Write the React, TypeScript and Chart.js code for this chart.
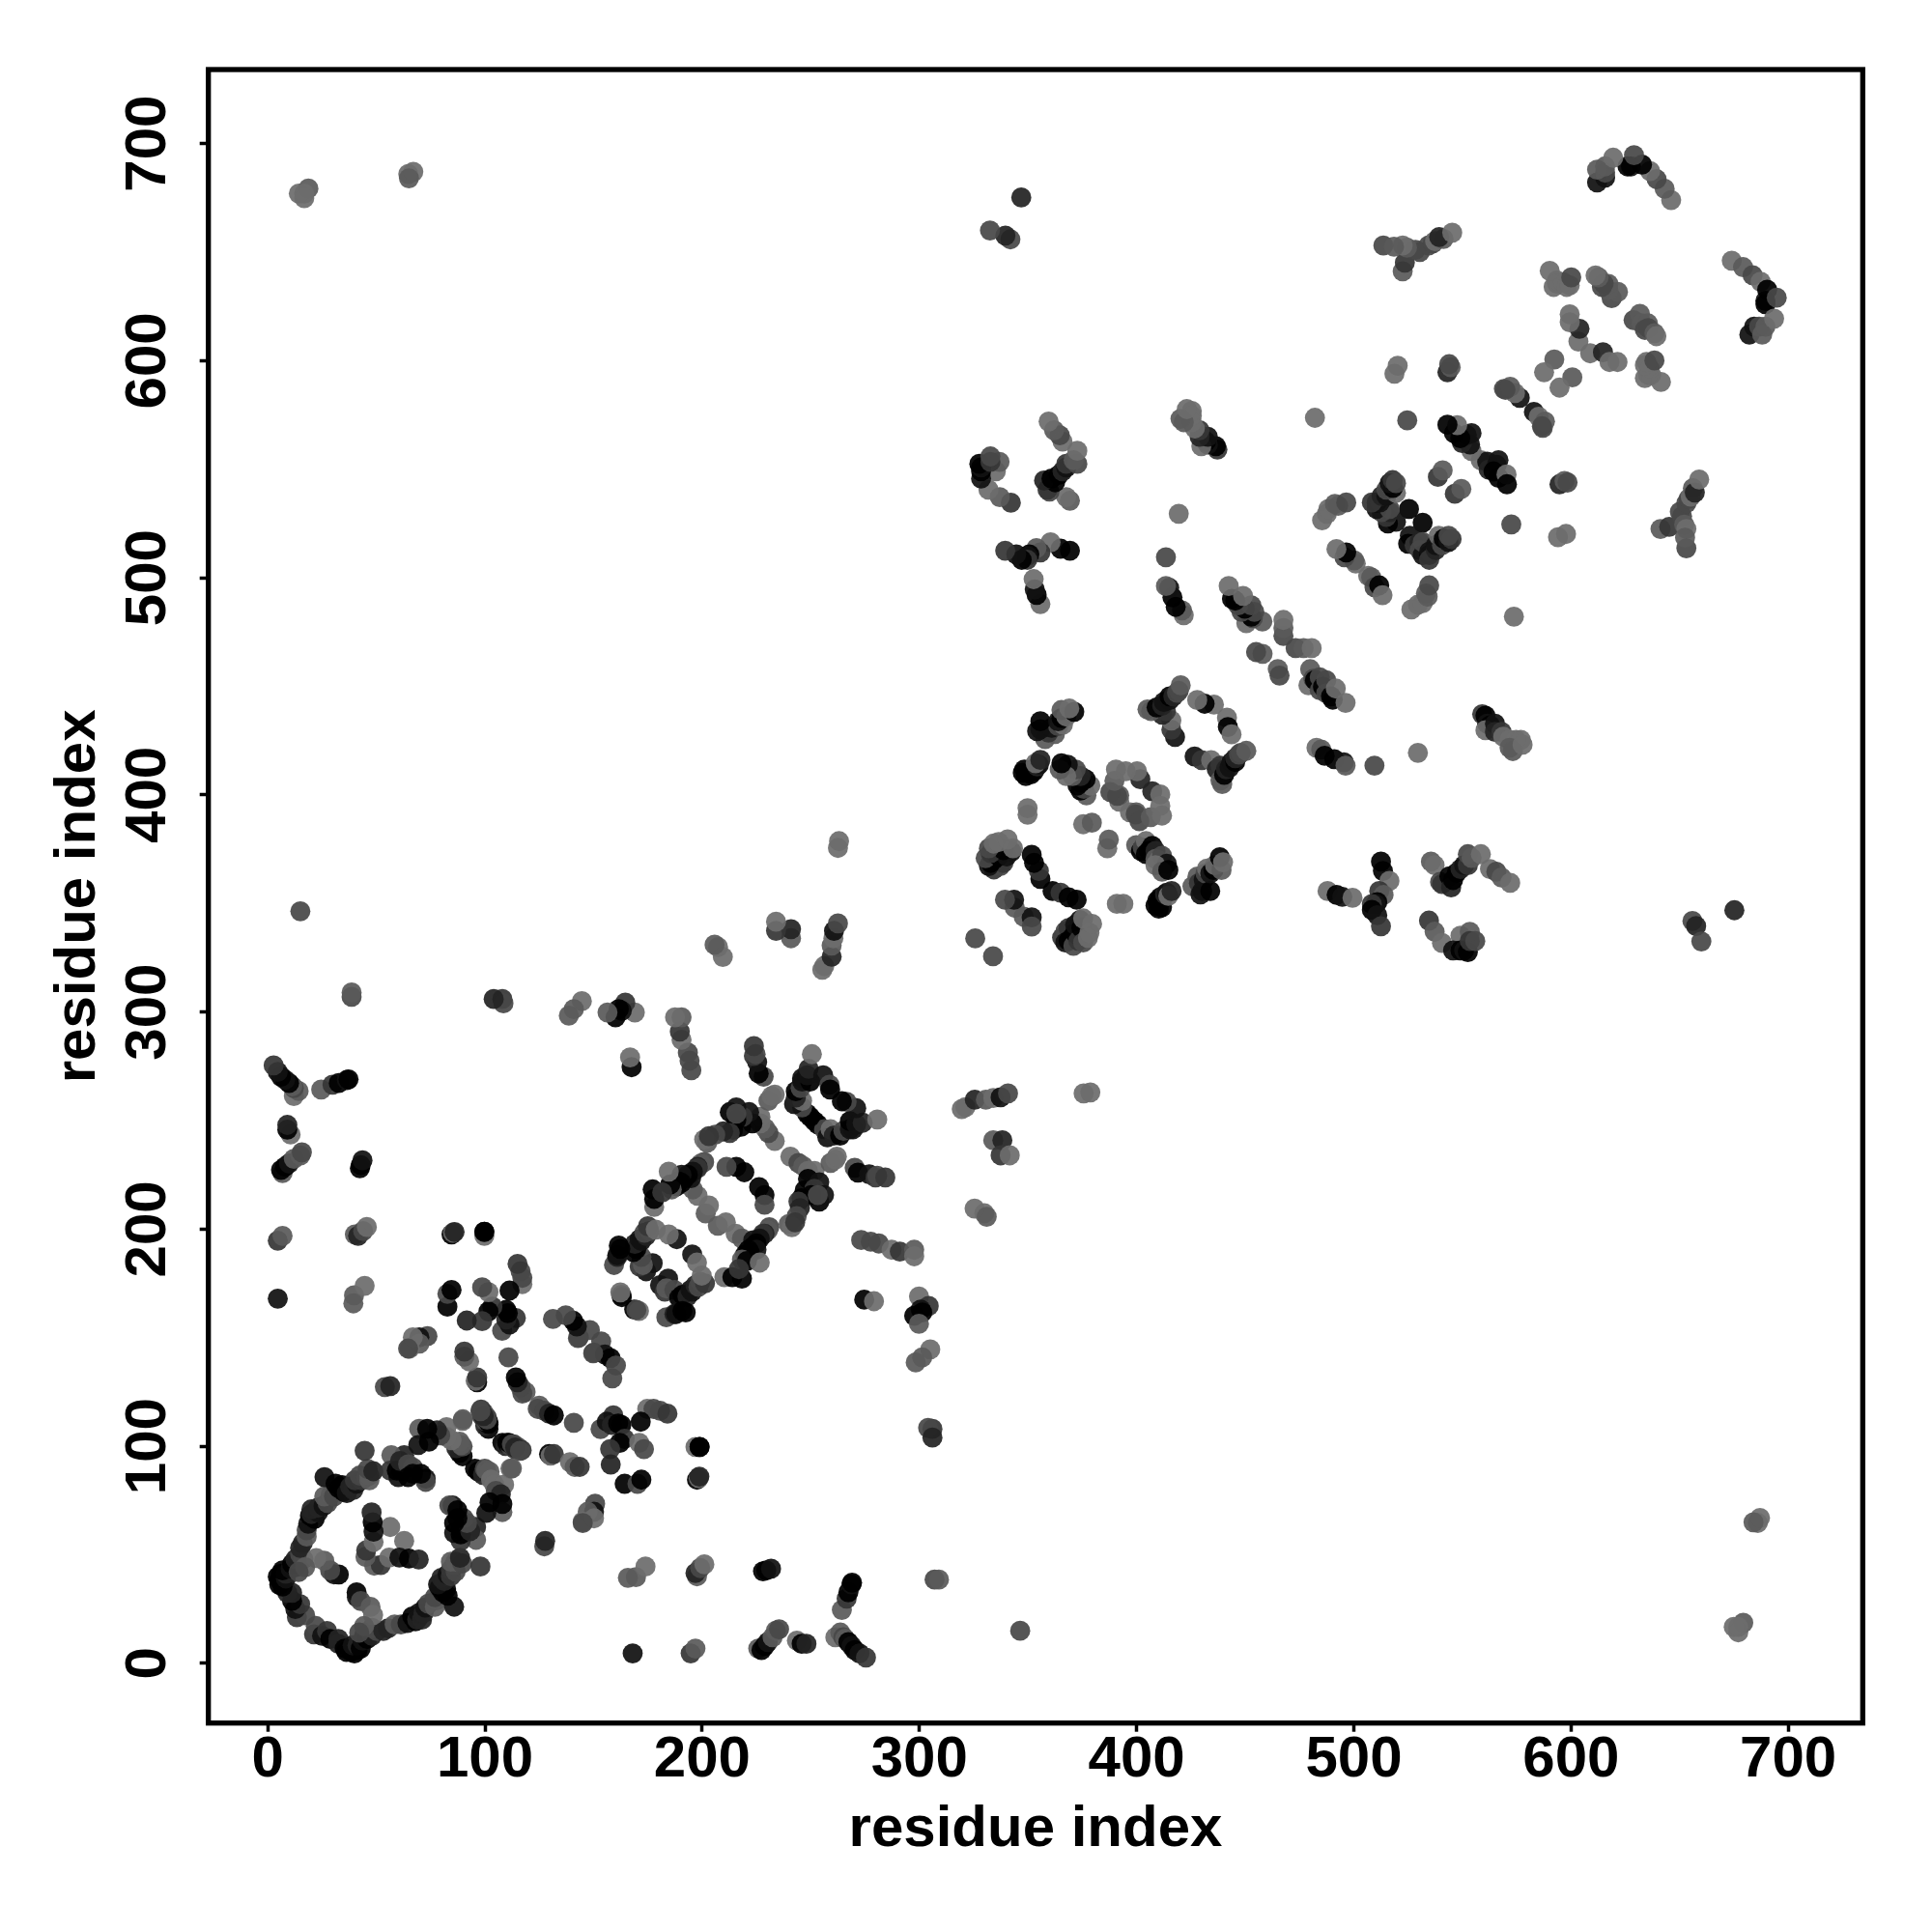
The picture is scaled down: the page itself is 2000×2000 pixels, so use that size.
import React, { useEffect, useRef } from "react";
import { Chart, registerables } from "chart.js";

Chart.register(...registerables);

const ringBottom = [[21.3,13.4,68],[22.1,17.2,85],[25,12.7,34],[27.3,14.9,68],[28.8,11.2,17],[32.5,9,51],[32.5,11.2,51],[35.4,6.8,0],[36.2,5.3,0],[38.4,5.3,17],[39.9,4.6,0],[41.3,6,0],[39.1,8.3,34],[41.3,8.3,51],[42.8,6.8,0],[43.6,10.5,34],[44.3,12.7,34],[45.8,11.2,0],[48,12.7,51],[48,16.4,85],[50.2,14.9,85],[53.2,14.9,51],[55.4,16.1,51],[58.4,17.9,102],[61.3,17.9,85],[64.3,18.6,34],[66.5,21.6,0],[68,19.4,0],[68.8,20.1,51],[69.5,23.1,34],[71,20.1,51],[71.7,23.1,51],[72.5,25.7,34],[73.9,27.5,85],[76.9,26,102],[77.6,29,102],[76.9,30.5,85],[85.8,26.1,34],[79.1,34.9,17],[80.6,32.7,0],[82.1,34.2,0],[82.8,31.2,0],[78.4,36.4,34],[79.9,39.4,51],[81.3,37.9,51],[82.8,40.9,34],[84.3,40.1,68],[84.3,43.1,68],[86.5,42.3,85],[85.8,45.3,85],[84.3,46.8,102],[86.5,46.8,102],[89.5,46,85],[88.5,48.6,51],[97.9,44.6,68]];
const ringArm = [[40.9,32.7,0],[41,30.5,34],[42.8,28.7,85],[47.3,26,102],[48.5,22.3,119],[44.3,17.2,102],[42.1,14.2,85]];
const ringCentre = [[62.8,56.4,119],[49,45,102],[52,45.3,68],[55.9,48.7,119],[60.6,48.7,34],[65,48.3,17],[69.5,47.8,51]];
const ringRight = [[95.9,62.8,51],[95.9,56.9,102],[88.8,56.4,68],[85.8,60.1,34],[88.8,59.4,0],[88.8,61.6,0],[93.2,60.9,51],[90.2,66.8,85],[91.7,64.6,85],[85.1,72.7,34],[83.6,72.7,85],[85.8,64.6,0],[87.3,66.8,17],[87.3,70.5,0]];
const strandE = [[95.4,89.7,17],[96.9,88.3,0],[99.1,86.8,51],[99.9,89.7,85],[100.6,89,102],[102.1,88.3,102],[102.8,84.6,119],[104.3,82.3,119],[108.8,82.3,119],[105,79.4,85],[107.3,77.9,51],[108,69.7,102],[100.6,69.3,34],[102.1,74.2,17],[108,73.4,0]];
const strandF = [[108,101.6,0],[109.5,100.1,51],[110.2,101.6,17],[111.7,100.1,85],[113.2,100.9,68],[113.9,98.6,68],[115.4,99.4,85],[116.9,98.2,68],[111.7,89.7,119],[111,101.6,0],[112.4,100.9,85],[113.9,99.4,51],[116.1,97.9,85],[112.4,89.8,102]];
const bandA = [[125,118.7,102],[124.3,117.2,85],[127.3,116.4,85],[129.5,115,51],[131.7,114.2,0],[140.9,110.8,85],[142.8,149.8,85],[153.5,148.3,85],[150.1,143.2,85],[155.2,142.3,34],[157.8,140.6,0],[160.3,137.2,85],[158.6,131.3,85],[159.1,114.2,68],[153.2,107.9,85],[156.1,111.3,34],[158.4,109.8,51],[161.3,110.5,0],[162.8,109.8,0]];
const bandB = [[174.7,117.2,119],[177.6,117.2,85],[180.6,116.4,85],[184,115,68],[171.7,111.3,17],[164.3,103.4,68],[162.1,101.6,0],[157.6,98.7,68],[157.9,91.6,51],[171,101.6,119],[173.2,98.7,85],[164.3,82.7,17],[170.2,82.7,85],[172,84.6,17],[196.9,99.7,119],[198.8,99.7,0],[198.8,99.7,0],[197.6,84.6,0],[198.4,85.3,119],[198.7,86,51],[129.5,96.4,0],[130.2,95.7,119],[131.7,96.4,68],[139.1,92.7,119],[141.3,90.5,102],[143.6,90.5,68]];
const bandC = [[150.7,73.5,85],[150.2,69.8,34],[147.3,69.8,102],[150.2,66.8,119],[145,65.3,119],[145,64.6,85],[127.3,53.9,85],[127.7,56.4,51],[165.8,39.4,102],[169.5,39.7,102],[173.9,44.6,119],[197.6,40.1,102],[196.9,41.6,51],[199.1,43.9,85],[201,45.6,119],[228,42.4,0],[229.5,42.8,17],[231.7,43.6,34],[264.3,24.6,102],[266.5,29.8,68],[267.3,32.7,0],[268.7,36.4,34],[269,37.2,17],[306,108,68],[304,108.5,85],[306,104,51],[307,38.6,85],[309,38.6,102]];
const bandBottom = [[168,4.6,34],[194.7,4.6,68],[196.9,6.8,102],[225.8,6.8,102],[227.3,6.1,0],[228.8,8,17],[230.2,9.8,34],[232.4,12,102],[233.9,15,102],[235.4,15.7,85],[243.6,10.5,119],[245.8,9,0],[248,9,51],[261.3,12,119],[263.6,14.2,102],[265,12,85],[265.8,11.3,102],[267.3,9.8,0],[268.8,8,34],[270.2,6.1,17],[272.4,4.6,34],[275.4,2.7,68],[346.4,15,85],[677,14.3,119],[679.3,18.7,102],[674.9,16.8,119],[677,16.8,119],[686,64.7,119],[687,67,119],[684,65,102]];
const twinLoop = [[226.2,219.4,0],[228.7,215.7,0],[228.7,211.2,85],[207.2,201.6,102],[210.9,203.1,119],[215.4,197.9,119],[218.3,195.7,102],[230.9,200.9,85],[230.2,199.4,102],[228.7,197.9,51],[228,197.9,68],[226.5,195.7,34],[223.5,194.9,34],[225,193.4,0],[223.5,192,17],[225,190.5,34],[222,189,0],[221.3,190.5,0],[219.8,188.3,17],[218.3,186,102],[220.6,185.3,0],[226.5,184.6,119],[210.2,177.9,119],[213.9,177.9,17],[218.3,177.2,0],[216.9,181.6,68]];
const twinRight = [[240.6,233.4,119],[244.3,230.5,85],[246.5,229,102],[248.7,226.8,119],[251.7,226.8,119],[248.7,223.1,0],[253.9,221.6,34],[247.2,217.9,0],[251.7,218.6,68],[253.9,212.7,17],[256.1,215.7,34],[250.2,215.7,0],[245.7,214.2,0],[244.3,212.7,68],[253.2,215.7,85],[245,209.7,51],[243.5,206,85],[239.8,202.3,102],[241.3,200.9,119],[242.8,203.1,68]];
const twinTop = [[251.7,249.7,17],[253.2,248.3,0],[256.1,246,85],[257.6,242.3,34],[259.1,246,119],[260.6,243.1,51],[263.5,243.1,0],[265,245.3,85],[268,246,34],[269.5,246,34],[268,249.7,17],[270.9,248.3,34],[273.9,249,51],[280.6,250.5,119],[270.9,255.7,34],[266.5,258.6,85],[264.3,258.9,17],[259.1,230.5,102],[261.3,232,119],[262,233.4,119],[270.2,228.3,85],[271.7,226,0],[276.9,225.3,34],[279.8,223.8,68],[280.6,224.6,85],[284.3,223.8,68]];
const twinOuter = [[273.2,195,85],[277.6,194.2,85],[281.3,193.4,85],[287.2,190.5,119],[291,189.7,68],[297.6,190.5,102],[297.6,187.5,119],[274.6,167.5,17],[279.1,166.8,119],[299.8,169,119],[304.3,164.6,68],[300.6,163,34],[297.6,160.1,17],[301.3,161.6,0],[299.8,156.4,102],[305,144.6,119],[301.3,140.9,102],[298.3,138.6,102]];
const twinLeft = [[184.3,177.2,34],[180.6,174.2,34],[182.8,171.2,68],[183.5,172.7,102],[187.2,172,85],[189.4,168.3,0],[190.9,169.7,17],[193.2,169,51],[194.6,172,34],[195.4,171.2,34],[196.9,174.2,51],[198.3,173.4,85],[199.1,175.7,85],[201.3,175,68],[183.5,159.4,85],[187.2,160.9,51],[188,160.9,34],[190.9,162.3,17],[192.4,161.6,0],[168.7,163,0],[170.9,162.3,119],[162.8,169.7,85],[195.4,188.3,34],[197.6,184.6,119],[199.8,178.6,119]];
const midA = [[319.5,255.3,119],[321.2,256.2,119],[325.5,259.6,51],[330.6,259.6,102],[334,260.4,119],[337.4,260.7,34],[340.8,262.5,85],[375.6,262.5,119],[378.7,263,119],[334,240.9,102],[338.2,240.9,51],[337.4,234,68],[341.6,234,119],[325.4,209.5,119],[329.9,207.3,119],[331,205.7,102]];
const midB = [[361.3,355.7,17],[365,355,68],[368.7,352.8,17],[372.4,351.7,17],[348,343.9,102],[351.7,343.6,34],[351.7,339.4,85],[333.9,325.7,85],[365.7,334.3,68],[367.2,337.2,85],[368.7,338.7,68],[367.2,332,34],[368.7,332.8,17],[370.2,334.2,0],[370.9,330.5,85],[372.4,335.7,17],[371.7,336.5,0],[371.7,340.2,34],[373.2,332.8,68],[373.9,342.4,34],[374.6,338.7,0],[375.4,332,85],[375.4,343.1,119],[377.6,334.2,119],[378.3,336.5,119],[379.5,340.6,119]];
const midC = [[390.9,349.8,119],[393.9,349.8,119],[410.2,347.6,17],[408.7,349,0],[411.7,348.3,0],[410.2,350.5,0],[409.5,351.3,17],[411.7,352,17],[410.9,352.8,17],[413.1,354.2,51],[413.9,355,34],[414.6,353.5,119],[416.1,355.7,51],[425.7,357.9,102],[428,362.4,102],[428.7,359.4,68],[429.4,354.2,34],[430.2,355.7,34],[430.9,360.9,34],[431.7,363.9,85],[433.9,355.7,17],[432.4,366.1,119],[433.9,363.9,34],[435.4,365.4,17],[436.1,367.6,119],[439.1,365.4,102],[438.3,371.3,0],[439.8,369,119]];
const midD = [[399.8,376.9,102],[402,374.2,17],[402.8,375.7,85],[404.3,378.7,119],[404.3,372.8,17],[405.7,374.2,0],[407.2,376.5,0],[408.7,374.2,51],[408.7,370.5,102],[410.2,369.8,119],[411.7,372,85],[413.9,368.3,34],[408.7,367.6,119],[411.7,364.6,102],[414.6,365.4,0],[386.5,375.4,119],[387.2,379.4,102],[396.9,392,119],[399.8,392,102],[399.6,391,85],[401.3,387.9,85],[406.5,389.8,102],[407.2,401.7,51],[410.9,400.2,119],[410.9,395,119],[411.7,390.5,119]];
const upperLoop = [[441.6,435.6,119],[442,431.3,17],[443.7,427.9,119],[426.7,417.7,34],[430,416,68],[434.3,416,119],[436.9,411.8,51],[438.6,406.7,102],[439.4,405,102],[438.6,413.5,68],[440.3,409.2,17],[441.1,411.8,51],[442.8,412.6,34],[443.7,415.2,34],[445.4,415.2,17],[445.4,416.9,51],[447.1,418.6,85],[447.9,419.4,85],[450.5,420.3,102]];
const highA = [[487.9,355.7,119],[492.1,354,17],[494.7,353.1,34],[499.4,352.6,119],[512.5,369.3,0],[513.4,365,17],[516.4,360.4,119],[511.7,355.7,68],[513.7,353.9,102],[510.8,350.6,17],[510,349.7,34],[508.3,349.7,68],[508.3,347.1,0],[510.8,344.6,34],[512.5,339.5,68],[535.5,369.3,102],[537.2,367.6,119],[539.7,359.9,85],[540.6,359,68],[544,362.5,0],[544.8,357.4,51],[545.7,360.8,17],[547.4,364.2,17],[549.1,365.9,51],[550.8,367.6,34],[552.5,367.6,68],[552.5,372.7,85],[554.2,371,102],[558.5,372.7,119],[562.7,365.9,119],[565.6,364.6,85],[568,362,102],[572,359.5,119]];
const highB = [[534.6,342.1,68],[537.2,337,102],[540.6,331.8,119],[549.1,335.2,119],[553.4,336.9,102],[545.7,328.4,34],[549.1,328.4,17],[550.8,328.4,34],[552.5,327.6,17],[553.4,332.7,68],[555.9,332.7,85],[482.8,421.7,119],[485,420.9,102],[486.6,418,0],[491,416.5,17],[495.4,415,34],[496.2,413.5,102],[509.5,413.5,85],[529.5,419.4,119]];
const highC = [[559.1,437.2,68],[560.6,436.5,0],[561.4,432.8,34],[562.8,432,0],[560.6,429.8,119],[565,432.8,34],[565,429,51],[568,429,68],[568.8,426.8,119],[571.7,425.4,119],[574.7,425.4,119],[576.9,425.4,119],[571.7,421.7,102],[573.2,420.2,102],[577.7,423.1,119],[479.1,450.5,119],[479.9,457.9,102],[481.4,453.5,85],[482.1,452.8,0],[484.3,454.2,85],[484.3,448.3,85],[485.8,449.8,17],[487.3,452.8,85],[487.3,446.8,85],[489.5,445.4,0],[490.3,443.9,0],[491.7,449,119],[496.2,442.4,119],[473.2,467.6,85],[476.9,467.6,102],[480.6,467.6,119],[465,458,102],[465.8,455,85]];
const highD = [[506.6,500.9,119],[508,500.2,102],[509.5,495.7,85],[511.7,496.5,17],[513.2,492,119],[526.5,485.4,119],[529.5,487.6,119],[531.7,488.3,119],[533.2,492.8,102],[534,491.3,102],[534.7,496.5,85],[531.7,525.4,17],[525.8,519.4,34],[525,515.7,17],[528,515,68],[530.3,516.5,51],[530.3,512.8,85],[531.7,510.5,34],[531.7,516.5,85],[534.7,510.5,17],[534.7,512,34],[534.7,508.3,68],[537.7,512.8,51],[537.7,515,34],[539.1,519.4,119],[540.6,515,85],[541.4,518,0],[543.6,516.5,34],[545,517.9,68],[543.6,519.4,85]];
const highE = [[546.5,538.7,68],[549.5,540.9,102],[558.4,554.2,119],[561.4,553.5,34],[562.1,549.8,51],[565.8,552,34],[566.6,554.2,34],[566.6,546.1,0],[564.3,549,17],[570.3,547.6,119],[570.5,543.1,17],[594.7,543.1,51],[597,544.6,102],[598.4,543.9,85],[572.5,524.6,85],[594,518.7,119],[597.7,520.2,119],[573.7,482.1,119],[582.9,576.4,34],[585.1,574.2,119],[587,569.1,85],[588,572,102],[586.6,569.8,85]];
const topA = [[674,646.1,119],[679.2,643.1,102],[683.6,639.4,85],[687.3,636.4,119],[689.5,627.6,34],[689.5,626,0],[690.3,632.7,0],[694.7,629,85],[682.1,612,34],[684.3,615.7,34],[686.6,615.7,85],[688,612,102],[689.5,615.7,102],[693.5,619.4,119],[628.8,618.7,85],[631.7,621.6,102],[632.5,617.2,102],[635.4,617.2,102],[635.5,615,85],[634,614.2,85],[638.4,612.7,102],[639.3,611.3,119]];
const topB = [[634,592,119],[635.5,593.5,119],[636.9,593.5,119],[636.2,596.4,119],[634,598,119],[634.7,599.4,119],[638.4,600.1,85],[641.4,590.2,119],[608.8,603.4,119],[614.7,603.9,51],[617.7,599.4,119],[621.4,599.4,119],[600.6,592.3,102],[594.7,587.6,119],[641.2,522.5,102],[645.2,523.5,68],[650.1,530.4,85],[651.1,528.4,85],[652.1,524.5,102],[653.1,522.5,119],[653.1,513.6,85],[652.5,518.5,102],[653.1,534.4,85],[654.1,536.4,85],[655.1,537.4,119],[656.1,541.3,102],[657,539.3,51],[659,545.3,119],[675.2,346.9,51],[655.9,341.9,85],[657.6,339.6,51],[660,332.5,85]];

const contactGroups = [ringBottom, ringArm, ringCentre, ringRight, strandE, strandF, bandA, bandB, bandC, bandBottom, twinLoop, twinRight, twinTop, twinOuter, twinLeft, midA, midB, midC, midD, upperLoop, highA, highB, highC, highD, highE, topA, topB];

const tickValues = [0, 100, 200, 300, 400, 500, 600, 700];
const axisTitle = "residue index";
const axisMin = { x: -27.35, y: -27.5 };
const axisMax = { x: 734.3, y: 734.1 };
const markerAlpha = 0.93;
const fontFamily = '"Liberation Sans", Arial, Helvetica, sans-serif';

const lower = contactGroups.flat();
const points = [
  ...lower.map(([i, j]) => ({ x: i, y: j })),
  ...lower.map(([i, j]) => ({ x: j, y: i })),
];
const toColour = (g: number) => {
  const c = Math.max(0, Math.round((g - 255 * (1 - markerAlpha)) / markerAlpha));
  return `rgba(${c},${c},${c},${markerAlpha})`;
};
const colours = [...lower, ...lower].map(([, , g]) => toColour(g));

const framePlugin = {
  id: "frameAndRotatedTicks",
  afterDraw(chart: any) {
    const { ctx, chartArea, scales } = chart;
    ctx.save();
    ctx.strokeStyle = "#000";
    ctx.lineWidth = 5.3;
    ctx.strokeRect(chartArea.left, chartArea.top, chartArea.right - chartArea.left, chartArea.bottom - chartArea.top);
    ctx.fillStyle = "#000";
    ctx.font = `bold 60px ${fontFamily}`;
    ctx.textAlign = "center";
    ctx.textBaseline = "alphabetic";
    for (const t of scales.y.ticks) {
      ctx.save();
      ctx.translate(170.5, scales.y.getPixelForValue(t.value));
      ctx.rotate(-Math.PI / 2);
      ctx.fillText(String(t.value), 0, 0);
      ctx.restore();
    }
    ctx.restore();
  },
};

const makeAxis = (axis: "x" | "y") => ({
  type: "linear" as const,
  min: axisMin[axis],
  max: axisMax[axis],
  afterBuildTicks: (scale: any) => {
    scale.ticks = tickValues.map((value) => ({ value }));
  },
  afterFit: (scale: any) => {
    if (axis === "x") scale.height = 216.3;
    else scale.width = 215.7;
  },
  border: { display: false },
  grid: { drawOnChartArea: false, drawTicks: true, tickLength: 9, tickWidth: 3.5, tickColor: "#000", color: "#000" },
  ticks: {
    display: axis === "x",
    autoSkip: false,
    maxRotation: 0,
    padding: -6,
    color: "#000",
    font: { family: fontFamily, weight: "bold" as const, size: 60 },
    callback: (v: any) => String(v),
  },
  title: {
    display: true,
    text: axisTitle,
    color: "#000",
    font: { family: fontFamily, weight: "bold" as const, size: 60 },
    padding: axis === "x" ? { top: 0, bottom: 70 } : { top: 45, bottom: 0 },
  },
});

export default function App() {
  const ref = useRef<HTMLCanvasElement>(null);
  useEffect(() => {
    const chart = new Chart(ref.current!, {
      type: "scatter",
      data: {
        datasets: [
          {
            data: points,
            pointRadius: 10.4,
            pointBorderWidth: 0,
            pointBackgroundColor: colours,
            showLine: false,
          },
        ],
      },
      options: {
        animation: false,
        responsive: false,
        devicePixelRatio: 1,
        layout: { padding: { top: 72, right: 71.7, left: 0, bottom: 0 } },
        plugins: { legend: { display: false }, tooltip: { enabled: false } },
        scales: { x: makeAxis("x"), y: makeAxis("y") },
      },
      plugins: [framePlugin],
    } as any);
    return () => chart.destroy();
  }, []);
  return (
    <canvas
      ref={ref}
      width={2000}
      height={2000}
      style={{ position: "absolute", left: 0, top: 0, width: 2000, height: 2000, display: "block", background: "#fff" }}
    />
  );
}
